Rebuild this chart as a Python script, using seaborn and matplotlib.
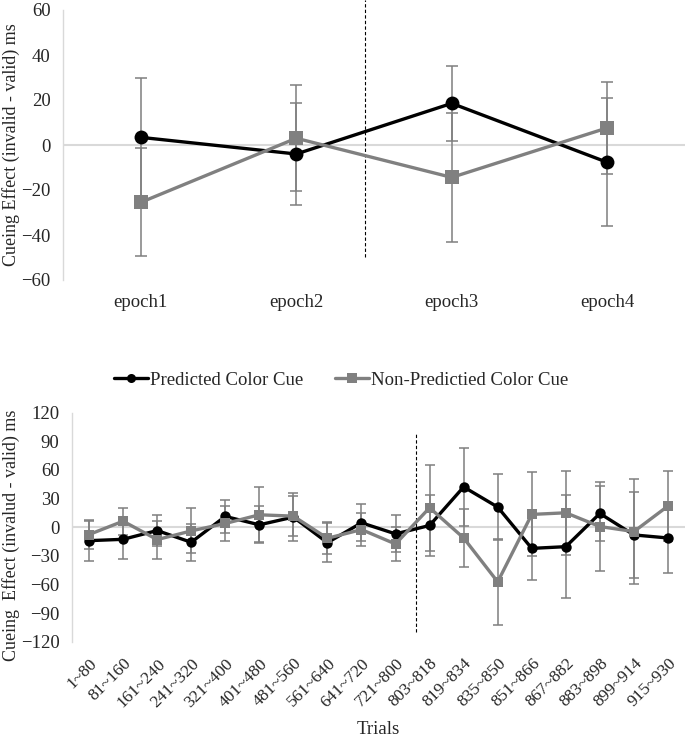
import numpy as np
import pandas as pd
import matplotlib
matplotlib.use("Agg")
import matplotlib.pyplot as plt
import seaborn as sns
from matplotlib.lines import Line2D

# ------------------------------
# Data
# ------------------------------
epochs = ["epoch1", "epoch2", "epoch3", "epoch4"]
epoch_pred = [3.4, -4.0, 18.5, -7.7]
epoch_pred_err = [26.4, 22.7, 16.5, 28.4]
epoch_nonpred = [-25.5, 3.0, -14.4, 7.6]
epoch_nonpred_err = [24.0, 23.5, 28.5, 20.5]

trials = ["1~80", "81~160", "161~240", "241~320", "321~400", "401~480",
          "481~560", "561~640", "641~720", "721~800", "803~818", "819~834",
          "835~850", "851~866", "867~882", "883~898", "899~914", "915~930"]
trial_pred = [-14.1, -12.7, -3.5, -15.8, 11.3, 2.5, 10.6, -16.2, 4.6, -7.0,
              1.8, 42.2, 21.1, -22.2, -20.4, 14.4, -8.1, -11.3]
trial_pred_err = [21.0, 21.0, 15.8, 19.5, 17.5, 19.5, 25.5, 20.5, 19.3, 19.3,
                  32.0, 41.0, 34.5, 33.0, 54.0, 28.5, 45.0, 37.0]
trial_nonpred = [-7.7, 6.3, -13.0, -3.9, 3.9, 13.0, 11.6, -11.6, -2.5, -17.6,
                 20.4, -11.3, -57.3, 13.4, 15.1, 0.7, -4.6, 22.2]
trial_nonpred_err = [15.0, 14.0, 20.0, 23.5, 18.6, 29.0, 21.0, 17.0, 17.0, 18.0,
                     45.0, 30.0, 45.0, 44.0, 44.0, 46.5, 55.0, 37.0]

series_names = ["Predicted Color Cue", "Non-Predictied Color Cue"]
series_colors = ["#000000", "#808080"]
series_markers = ["o", "s"]

# dashed separators (category position, y-range)
epoch_split = 1.445
epoch_split_y = [-50, 64.5]
trial_split = 9.59
trial_split_y = [-110, 100]

# ------------------------------
# Style
# ------------------------------
sns.set_style("white")
plt.rcParams["font.family"] = ["Liberation Serif", "DejaVu Serif"]
err_color = "#7f7f7f"
grid_color = "#d9d9d9"
fs = 13.5

fig = plt.figure(figsize=(6.85, 7.4), dpi=100)
ax1 = fig.add_axes([63 / 685, 1 - 280 / 740, 622 / 685, 270 / 740])
ax2 = fig.add_axes([72 / 685, 1 - 641.7 / 740, 613 / 685, 229 / 740])


def draw_panel(ax, cats, vals, errs, msize, lw, capsize):
    df = pd.DataFrame({
        "cat": cats * 2,
        "value": vals[0] + vals[1],
        "series": [series_names[0]] * len(cats) + [series_names[1]] * len(cats),
    })
    ax.axhline(0, color=grid_color, lw=1.5, zorder=0)
    for i in range(2):
        ax.errorbar(cats, vals[i], yerr=errs[i], fmt="none", ecolor=err_color,
                    elinewidth=1.1, capsize=capsize, capthick=1.1, zorder=2)
    sns.lineplot(data=df, x="cat", y="value", hue="series", style="series",
                 palette=series_colors, markers=series_markers, dashes=False,
                 markersize=msize, linewidth=lw, markeredgewidth=0,
                 sort=False, legend=False, ax=ax, zorder=3)
    for s in ["top", "right", "bottom"]:
        ax.spines[s].set_visible(False)
    ax.spines["left"].set_color(grid_color)
    ax.spines["left"].set_linewidth(1.0)
    ax.tick_params(axis="both", length=0, labelsize=fs)
    ax.tick_params(axis="y", pad=9)
    ax.set_xlim(-0.5, len(cats) - 0.5)


# ------------------------------
# Top panel: epochs
# ------------------------------
draw_panel(ax1, epochs, [epoch_pred, epoch_nonpred],
           [epoch_pred_err, epoch_nonpred_err], 10, 2.4, 4)
ax1.set_ylim(-60, 60)
ax1.set_yticks(np.arange(-60, 61, 20))
ax1.plot([epoch_split, epoch_split], epoch_split_y, color="black", lw=0.8,
         ls=(0, (3, 2)), clip_on=False, zorder=1)
ax1.set_xlabel("")
ax1.set_ylabel("Cueing Effect (invalid - valid) ms", fontsize=13, va="center")
ax1.yaxis.set_label_coords((11.5 - 63) / 622, (280 - 145) / 270)
ax1.tick_params(axis="x", pad=10)

# ------------------------------
# Bottom panel: trials
# ------------------------------
draw_panel(ax2, trials, [trial_pred, trial_nonpred],
           [trial_pred_err, trial_nonpred_err], 7.5, 2.4, 3.5)
ax2.set_ylim(-120, 120)
ax2.set_yticks(np.arange(-120, 121, 30))
ax2.plot([trial_split, trial_split], trial_split_y, color="black", lw=0.8,
         ls=(0, (3, 2)), zorder=1)
for lab in ax2.get_xticklabels():
    lab.set_rotation(45)
    lab.set_ha("right")
    lab.set_rotation_mode("anchor")
    lab.set_fontsize(12.5)
ax2.tick_params(axis="x", pad=10)
ax2.set_xlabel("Trials", fontsize=fs, va="center")
ax2.xaxis.set_label_coords(0.5, (641.7 - 729) / 229)
ax2.set_ylabel("Cueing  Effect (invalud - valid) ms", fontsize=13, va="center")
ax2.yaxis.set_label_coords((11.5 - 72) / 613, (641.7 - 535) / 229)

handles = [Line2D([], [], color=c, marker=m, lw=2.4, markersize=6.5, markeredgewidth=0)
           for c, m in zip(series_colors, series_markers)]
fig.legend(handles, series_names, loc="center", ncol=2, frameon=False,
           bbox_to_anchor=(341 / 685, 1 - 380 / 740), fontsize=fs,
           handlelength=1.8, handletextpad=0.1, columnspacing=1.7)

fig.savefig("out.png", dpi=100)
